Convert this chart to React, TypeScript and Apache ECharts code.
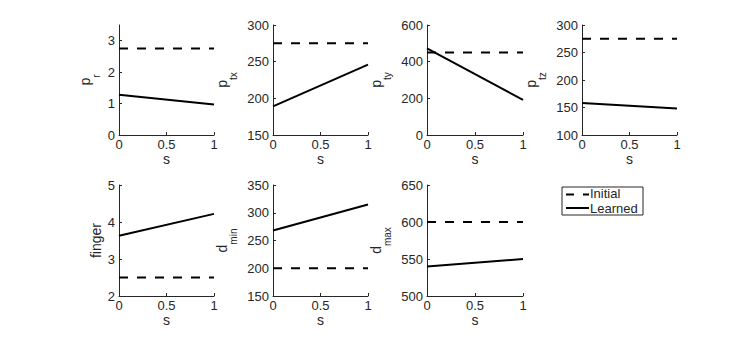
import React, { useEffect, useRef } from "react";
import * as echarts from "echarts";

const sValues = [0, 1];
const panelNames = ["p_r", "p_tx", "p_ty", "p_tz", "finger", "d_min", "d_max"];
const initialValues = [2.75, 275, 450, 275, 2.5, 200, 600];
const learnedStart = [1.28, 189, 473, 158, 3.63, 268, 540];
const learnedEnd = [0.97, 246, 191, 148, 4.22, 315, 550];
const yMins = [0, 150, 0, 100, 2, 150, 500];
const yMaxs = [3.5, 300, 600, 300, 5, 350, 650];
const yIntervals = [1, 50, 200, 50, 1, 50, 50];
const legendLabels = ["Initial", "Learned"];

const FONT = "'Liberation Sans', Arial, Helvetica, sans-serif";
const AX = "#262626";

const grids = [
  { left: 119, top: 25, width: 95, height: 110 },
  { left: 273, top: 25, width: 95, height: 110 },
  { left: 427, top: 25, width: 96, height: 110 },
  { left: 582, top: 25, width: 95, height: 110 },
  { left: 119, top: 185, width: 95, height: 111 },
  { left: 273, top: 185, width: 95, height: 111 },
  { left: 427, top: 185, width: 96, height: 111 },
];

function nameOf(n: string) {
  const parts = n.split("_");
  if (parts.length === 1) return "{c|" + n + "}";
  return "{a|" + parts[0] + "}{b|" + parts[1] + "}";
}

export default function App() {
  const ref = useRef<HTMLDivElement>(null);
  useEffect(() => {
    if (!ref.current) return;
    const chart = echarts.init(ref.current, undefined, { renderer: "svg" });
    const xAxis: any[] = [];
    const yAxis: any[] = [];
    const series: any[] = [];
    grids.forEach((g, i) => {
      const isFinger = panelNames[i] === "finger";
      const wide = yMaxs[i] >= 100;
      xAxis.push({
        gridIndex: i,
        type: "value",
        min: 0,
        max: 1,
        interval: 0.5,
        name: "s",
        nameLocation: "middle",
        nameGap: 14,
        nameTextStyle: { color: AX, fontFamily: FONT, fontSize: 14 },
        axisLine: { show: true, lineStyle: { color: AX, width: 1 } },
        axisTick: { show: true, inside: true, length: 3, lineStyle: { color: AX } },
        axisLabel: { color: AX, fontFamily: FONT, fontSize: 13, margin: 3 },
        splitLine: { show: false },
      });
      yAxis.push({
        gridIndex: i,
        type: "value",
        min: yMins[i],
        max: yMaxs[i],
        interval: yIntervals[i],
        name: nameOf(panelNames[i]),
        nameLocation: "middle",
        nameRotate: 90,
        nameGap: isFinger ? 16 : wide ? 35 : 18,
        nameTextStyle: {
          color: AX,
          fontFamily: FONT,
          fontSize: 14,
          rich: {
            a: { fontFamily: FONT, fontSize: 14, color: AX, lineHeight: 23, verticalAlign: "top" },
            b: { fontFamily: FONT, fontSize: 10, color: AX, lineHeight: 10, verticalAlign: "bottom" },
            c: { fontFamily: FONT, fontSize: 14, color: AX, lineHeight: 14 },
          },
        },
        axisLine: { show: true, lineStyle: { color: AX, width: 1 } },
        axisTick: { show: true, inside: true, length: 3, lineStyle: { color: AX } },
        axisLabel: { color: AX, fontFamily: FONT, fontSize: 13, margin: 4, showMaxLabel: i === 0 ? false : true },
        splitLine: { show: false },
      });
      series.push({
        type: "line",
        name: legendLabels[0],
        xAxisIndex: i,
        yAxisIndex: i,
        data: sValues.map((s) => [s, initialValues[i]]),
        symbol: "none",
        lineStyle: { color: "#000", width: 2, type: [9, 9] },
      });
      series.push({
        type: "line",
        name: legendLabels[1],
        xAxisIndex: i,
        yAxisIndex: i,
        data: [
          [sValues[0], learnedStart[i]],
          [sValues[1], learnedEnd[i]],
        ],
        symbol: "none",
        lineStyle: { color: "#000", width: 2, type: "solid" },
      });
    });
    chart.setOption({
      animation: false,
      backgroundColor: "#fff",
      grid: grids.map((g) => ({ ...g, containLabel: false })),
      xAxis,
      yAxis,
      series,
      graphic: [
        { type: "rect", shape: { x: 562, y: 187, width: 81, height: 28 }, style: { fill: "#fff", stroke: "#262626", lineWidth: 1 } },
        { type: "line", shape: { x1: 566, y1: 194.5, x2: 589, y2: 194.5 }, style: { stroke: "#000", lineWidth: 2, lineDash: [8, 9] } },
        { type: "line", shape: { x1: 566, y1: 208, x2: 589, y2: 208 }, style: { stroke: "#000", lineWidth: 2 } },
        { type: "text", x: 590, y: 193.5, style: { text: legendLabels[0], fill: AX, font: "13px " + FONT, verticalAlign: "middle" } },
        { type: "text", x: 590, y: 208.5, style: { text: legendLabels[1], fill: AX, font: "13px " + FONT, verticalAlign: "middle" } },
      ],
    });
    return () => chart.dispose();
  }, []);
  return <div ref={ref} style={{ position: "fixed", left: 0, top: 0, width: 747, height: 339 }} />;
}
